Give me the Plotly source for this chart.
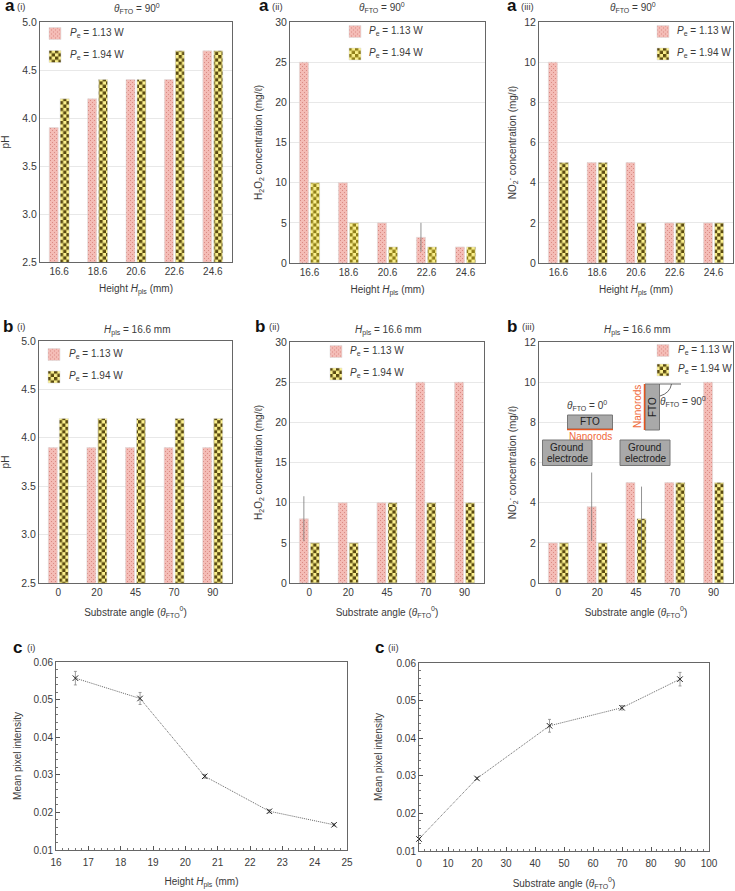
import plotly.graph_objects as go

W, H = 735, 891
FONT = "Liberation Sans"
TXT = "#3a3a3a"
heights = ["16.6", "18.6", "20.6", "22.6", "24.6"]
angles = ["0", "20", "45", "70", "90"]

ph_a_113 = [3.9, 4.2, 4.4, 4.4, 4.7]
ph_a_194 = [4.2, 4.4, 4.4, 4.7, 4.7]
h2o2_a_113 = [25, 10, 5, 3.2, 2]
h2o2_a_194 = [10, 5, 2, 2, 2]
no2_a_113 = [10, 5, 5, 2, 2]
no2_a_194 = [5, 5, 2, 2, 2]
ph_b_113 = [3.9, 3.9, 3.9, 3.9, 3.9]
ph_b_194 = [4.2, 4.2, 4.2, 4.2, 4.2]
h2o2_b_113 = [8, 10, 10, 25, 25]
h2o2_b_194 = [5, 5, 10, 10, 10]
no2_b_113 = [2, 3.8, 5, 5, 10]
no2_b_194 = [2, 2, 3.2, 5, 5]
err_h2o2_a_113 = [None, None, None, 1.8, None]
err_h2o2_b_113 = [2.8, None, None, None, None]
err_no2_b_113 = [None, 1.7, None, None, None]
err_no2_b_194 = [None, None, 1.6, None, None]

c1_x = [16.6, 18.6, 20.6, 22.6, 24.6]
c1_y = [0.0557, 0.0503, 0.0296, 0.0203, 0.0167]
c1_e = [0.0018, 0.0016, 0.0005, 0.0004, 0.0003]
c2_x = [0, 20, 45, 70, 90]
c2_y = [0.0132, 0.0293, 0.0433, 0.0481, 0.0557]
c2_e = [0.0002, 0.0003, 0.0017, 0.0006, 0.0018]

def sub(s): return f"<sub><span style='font-size:7px'>{s}</span></sub>"
def sup(s): return f"<sup><span style='font-size:7px'>{s}</span></sup>"

XH = f"Height <i>H</i>{sub('pls')} (mm)"
XA = f"Substrate angle (<i>θ</i>{sub('FTO')}{sup('0')})"
YPH = "pH"
YH = f"H{sub('2')}O{sub('2')} concentration (mg/ℓ)"
YN = f"NO{sub('2')}{sup('-')} concentration (mg/ℓ)"
TA = f"<i>θ</i>{sub('FTO')} = 90{sup('0')}"
TB = f"<i>H</i>{sub('pls')} = 16.6 mm"
L1 = f"<i>P</i>{sub('e')} = 1.13 W"
L2 = f"<i>P</i>{sub('e')} = 1.94 W"

def px(x): return x / W
def py(y): return 1 - y / H

fig = go.Figure()
ann = []
shapes = []

def text(x, y, s, size=10, color=TXT, anchor="center", angle=0, bold=False):
    ann.append(dict(x=px(x), y=py(y), xref="paper", yref="paper", text=f"<b>{s}</b>" if bold else s,
                    showarrow=False, xanchor=anchor, yanchor="middle", textangle=angle,
                    font=dict(family=FONT, size=size, color=color)))

panels = [
 dict(box=(40,232,22,262), cats=heights, p=ph_a_113, y=ph_a_194, ep=None, ey=None, r=(2.5,5), d=0.5, xt=XH, yt=YPH, tit=TA, tx=137, ty=9, sw=50, rows=(33,55.5), tl=68, tag=("a","(i)",3,15,6), so=16, xso=8, fmt=".1f", fg="#5a4a10"),
 dict(box=(290,485,22,263), cats=heights, p=h2o2_a_113, y=h2o2_a_194, ep=err_h2o2_a_113, ey=None, r=(0,30), d=5, xt=XH, yt=YH, tit=TA, tx=382, ty=8, sw=350, rows=(31,53), tl=367, tag=("a","(ii)",257,270,6), so=10, xso=8, fmt="d", fg="#8f7f18"),
 dict(box=(539,733,22,263), cats=heights, p=no2_a_113, y=no2_a_194, ep=None, ey=None, r=(0,12), d=2, xt=XH, yt=YN, tit=TA, tx=633, ty=8, sw=658, rows=(31,53), tl=675, tag=("a","(iii)",505,519,6), so=5, xso=8, fmt="d", fg="#5a4a10"),
 dict(box=(39,232,341,583), cats=angles, p=ph_b_113, y=ph_b_194, ep=None, ey=None, r=(2.5,5), d=0.5, xt=XA, yt=YPH, tit=TB, tx=137, ty=330.5, sw=49, rows=(354,376), tl=67, tag=("b","(i)",1,15,326), so=16, xso=11, fmt=".1f", fg="#5a4a10"),
 dict(box=(290,484,342,583), cats=angles, p=h2o2_b_113, y=h2o2_b_194, ep=err_h2o2_b_113, ey=None, r=(0,30), d=5, xt=XA, yt=YH, tit=TB, tx=388, ty=330, sw=331, rows=(351,373), tl=348, tag=("b","(ii)",253,267,326), so=10, xso=11, fmt="d", fg="#5a4a10"),
 dict(box=(539,733,342,583), cats=angles, p=no2_b_113, y=no2_b_194, ep=err_no2_b_113, ey=err_no2_b_194, r=(0,12), d=2, xt=XA, yt=YN, tit=TB, tx=637, ty=330, sw=658, rows=(350,369), tl=675.5, tag=("b","(iii)",505,520,326), so=5, xso=11, fmt="d", fg="#5a4a10"),
]

def axes(i, box):
    l, r, t, b = box
    return (dict(domain=[px(l), px(r)], anchor=f"y{i}"),
            dict(domain=[py(b), py(t)], anchor=f"x{i}"))

layout = {}
legend_layout = {}
for i, p in enumerate(panels, 1):
    xa = "x" if i == 1 else f"x{i}"
    ya = "y" if i == 1 else f"y{i}"
    lg = "legend" if i == 1 else f"legend{i}"
    for nm, vals, err, bg, fg, shape, size, sol, lab in [
        ("p", p["p"], p["ep"], "#f4bcb6", "#d98a83", ".", 2.6, 0.25, L1),
        ("y", p["y"], p["ey"], "#fbf08c", p["fg"], "x", 6.6, 0.5, L2)]:
        fig.add_trace(go.Bar(
            x=p["cats"], y=vals, xaxis=xa, yaxis=ya, name=" ", legend=lg, legendgroup=f"{i}{nm}",
            hovertext=lab, showlegend=True,
            marker=dict(color=bg, line=dict(color="#d8d8d8", width=0.5),
                        pattern=dict(shape=shape, bgcolor=bg, fgcolor=fg, size=size, solidity=sol, fillmode="replace")),
            error_y=dict(type="data", array=err, color="#777777", thickness=0.8, width=0) if err else None,
        ))
    x, y = axes(i, p["box"])
    x.update(type="category", showgrid=False, ticks="", showline=True, mirror=True, linecolor="#666666", linewidth=1,
             tickfont=dict(family=FONT, size=10, color=TXT), automargin=False,
             title=dict(text=p["xt"], font=dict(family=FONT, size=10, color=TXT), standoff=p["xso"]))
    y.update(range=list(p["r"]), dtick=p["d"], tickformat=p["fmt"], showgrid=True, gridcolor="#e8e8e8", gridwidth=1, ticks="",
             showline=True, mirror=True, linecolor="#666666", linewidth=1, zeroline=False,
             tickfont=dict(family=FONT, size=10.5, color=TXT), automargin=False,
             title=dict(text=p["yt"], font=dict(family=FONT, size=10, color=TXT), standoff=p["so"]))
    layout["xaxis" if i == 1 else f"xaxis{i}"] = x
    layout["yaxis" if i == 1 else f"yaxis{i}"] = y
    legend_layout[lg] = dict(x=px(p["sw"] - 15), y=py(p["rows"][0] - 14), xanchor="left", yanchor="top",
                             bgcolor="rgba(0,0,0,0)", borderwidth=0, tracegroupgap=max(0, p["rows"][1] - p["rows"][0] - 18.5),
                             font=dict(family=FONT, size=10), traceorder="grouped", itemclick=False, itemdoubleclick=False)
    text(p["tx"], p["ty"], p["tit"])
    text(p["tl"], p["rows"][0], L1, anchor="left")
    text(p["tl"], p["rows"][1], L2, anchor="left")
    t = p["tag"]
    text(t[2], t[4], t[0], size=17, color="#111111", anchor="left", bold=True)
    text(t[3], t[4] + 0.5, t[1], size=9.5, anchor="left")

line_panels = [
 dict(i=7, box=(56,347,662,850), xv=c1_x, yv=c1_y, ev=c1_e, xr=(16,25), xd=1, xm=0.2, xt=XH, so=10, yso=10, tag=("c","(i)",11,25,647)),
 dict(i=8, box=(419,709,663,851), xv=c2_x, yv=c2_y, ev=c2_e, xr=(0,100), xd=10, xm=2, xt=XA, so=11, yso=12, tag=("c","(ii)",373,386,647)),
]
for p in line_panels:
    i = p["i"]
    fig.add_trace(go.Scatter(
        x=p["xv"], y=p["yv"], xaxis=f"x{i}", yaxis=f"y{i}", mode="lines+markers", showlegend=False,
        line=dict(color="#666666", width=1, dash="1px,1px"),
        marker=dict(symbol="x-thin", size=5.5, line=dict(color="#222222", width=1), color="#222222"),
        error_y=dict(type="data", array=p["ev"], color="#888888", thickness=0.8, width=1.5),
        cliponaxis=False))
    x, y = axes(i, p["box"])
    x.update(range=list(p["xr"]), dtick=p["xd"], ticks="inside", ticklen=4, tickcolor="#555555", showgrid=False,
             showline=True, mirror=True, linecolor="#666666", linewidth=1, zeroline=False, automargin=False,
             minor=dict(dtick=p["xm"], ticks="inside", ticklen=2, tickcolor="#777777", showgrid=False),
             tickfont=dict(family=FONT, size=10, color=TXT), ticklabelstandoff=3,
             title=dict(text=p["xt"], font=dict(family=FONT, size=10, color=TXT), standoff=p["so"]))
    y.update(range=[0.01, 0.06], dtick=0.01, tickformat=".2f", ticks="inside", ticklen=4, tickcolor="#555555", showgrid=False,
             showline=True, mirror=True, linecolor="#666666", linewidth=1, zeroline=False, automargin=False,
             minor=dict(dtick=0.002, ticks="inside", ticklen=2, tickcolor="#777777", showgrid=False),
             tickfont=dict(family=FONT, size=10, color=TXT),
             title=dict(text="Mean pixel intensity", font=dict(family=FONT, size=10, color=TXT), standoff=p["yso"]))
    layout[f"xaxis{i}"] = x
    layout[f"yaxis{i}"] = y
    t = p["tag"]
    text(t[2], t[4], t[0], size=17, color="#111111", anchor="left", bold=True)
    text(t[3], t[4] + 0.5, t[1], size=9.5, anchor="left")

GR = "#a9a9a9"
OR = "#f0693a"
def rect(x0, y0, x1, y1, fill=GR, line="#777777", w=1):
    shapes.append(dict(type="rect", xref="paper", yref="paper", x0=px(x0), x1=px(x1), y0=py(y0), y1=py(y1),
                       fillcolor=fill, line=dict(color=line, width=w), layer="above"))
def seg(x0, y0, x1, y1, color, w):
    shapes.append(dict(type="line", xref="paper", yref="paper", x0=px(x0), x1=px(x1), y0=py(y0), y1=py(y1),
                       line=dict(color=color, width=w), layer="above"))
rect(542.5, 440, 592, 465.5)
rect(620, 440, 670, 465.5)
rect(567.5, 415, 612.5, 429)
seg(567, 429.5, 613, 429.5, "#e8541e", 1.5)
rect(645, 384, 659.5, 430)
seg(644.5, 384, 644.5, 430, "#e8541e", 1.5)
seg(659.5, 384, 681, 384, "#444444", 0.8)
shapes.append(dict(type="path", xref="paper", yref="paper", layer="above", line=dict(color="#444444", width=0.8),
                   path=f"M {px(671.5)} {py(384)} Q {px(670)} {py(393)} {px(660)} {py(396)}"))
text(566.5, 447, "Ground", color="#222222")
text(567.5, 458.5, "electrode", color="#222222")
text(644.5, 447, "Ground", color="#222222")
text(645.5, 458.5, "electrode", color="#222222")
text(590, 421.5, "FTO", color="#222222")
text(652, 407, "FTO", color="#222222", angle=-90)
text(590.5, 436, "Nanorods", color=OR)
text(637.5, 406.5, "Nanorods", color=OR, angle=-90)
text(587, 405, f"<i>θ</i>{sub('FTO')} = 0{sup('0')}")
text(682.5, 401, f"<i>θ</i>{sub('FTO')} = 90{sup('0')}")

fig.update_layout(width=W, height=H, margin=dict(l=0, r=0, t=0, b=0), autosize=False,
                  paper_bgcolor="white", plot_bgcolor="white", barmode="group", bargap=0.43, bargroupgap=0.18,
                  annotations=ann, shapes=shapes, font=dict(family=FONT, color=TXT), **layout, **legend_layout)

# plotly has no checker pattern: restyle the fill tiles it generated (squares for "x", staggered stipple for ".")
POST = """
document.body.style.margin='0';
function fixPatterns(){
  var NS='http://www.w3.org/2000/svg';
  document.querySelectorAll('pattern').forEach(function(pt){
    if(pt.getAttribute('data-fixed')) return;
    var mark=pt.querySelector('path,circle'); if(!mark) return;
    var isChecker=mark.tagName==='path';
    var fg=mark.style.stroke||mark.getAttribute('stroke')||mark.style.fill||mark.getAttribute('fill');
    if(!isChecker){ fg=mark.style.fill||mark.getAttribute('fill')||fg; }
    var bgr=pt.querySelector('rect');
    var bg=bgr?(bgr.style.fill||bgr.getAttribute('fill')):(isChecker?'#fbf08c':'#f4bcb6');
    var s=isChecker?6.6:4, d=isChecker?3.3:1;
    while(pt.firstChild) pt.removeChild(pt.firstChild);
    pt.setAttribute('width',s); pt.setAttribute('height',s);
    pt.removeAttribute('patternTransform');
    [[0,0,s,s,bg],[0,0,d,d,fg],[s/2,s/2,d,d,fg]].forEach(function(r){
      var e=document.createElementNS(NS,'rect');
      e.setAttribute('x',r[0]);e.setAttribute('y',r[1]);e.setAttribute('width',r[2]);e.setAttribute('height',r[3]);
      e.setAttribute('fill',r[4]);pt.appendChild(e);
    });
    pt.setAttribute('data-fixed','1');
  });
}
fixPatterns();
[0,50,200,500,1000].forEach(function(t){setTimeout(fixPatterns,t);});
"""
fig.write_html("out.html", post_script=POST, config=dict(displayModeBar=False))
